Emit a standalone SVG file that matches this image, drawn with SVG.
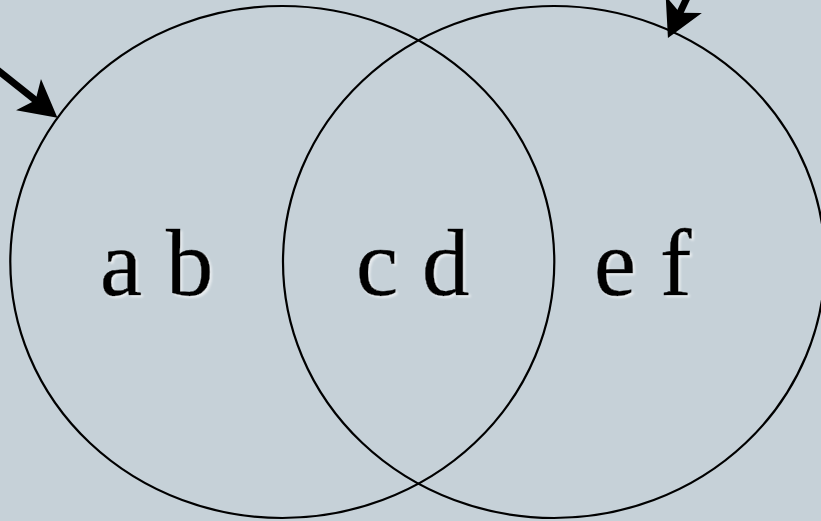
<svg xmlns="http://www.w3.org/2000/svg" width="821" height="521" viewBox="0 0 821 521">
  <style>
    .set { fill: none; stroke: #000; stroke-width: 2.2; }
    .lbl { font-family: "Liberation Serif", "Times New Roman", serif; font-size: 95px; fill: #000; stroke: #000; stroke-width: 0.5; filter: url(#glow); }
    .arrow { stroke: #000; stroke-width: 7; fill: none; marker-end: url(#head); }
  </style>
  <defs>
    <filter id="glow" x="-10%" y="-10%" width="130%" height="130%">
      <feDropShadow dx="2" dy="2" stdDeviation="1" flood-color="#ffffff" flood-opacity="0.6"/>
    </filter>
    <marker id="head" markerUnits="userSpaceOnUse" orient="auto" refX="0" refY="0" markerWidth="80" markerHeight="80" viewBox="-40 -40 80 80" overflow="visible">
      <path d="M20,0 L-17,-20 L-8,0 L-17,20 Z" fill="#000"/>
    </marker>
  </defs>
  <rect width="821" height="521" fill="#c6d1d8"/>
  <g id="set-left">
    <ellipse class="set" cx="282.3" cy="262" rx="272" ry="256"/>
    <text class="lbl" x="100" y="295">a b</text>
  </g>
  <g id="set-right">
    <ellipse class="set" cx="554" cy="262" rx="271" ry="256"/>
    <text class="lbl" x="594" y="295">e f</text>
  </g>
  <g id="intersection">
    <text class="lbl" x="356" y="295">c d</text>
  </g>
  <g id="connectors">
    <line class="arrow" x1="-20" y1="56" x2="41.8" y2="105.3"/>
    <line class="arrow" x1="710.7" y1="-52.4" x2="676.5" y2="19.9"/>
  </g>
</svg>
